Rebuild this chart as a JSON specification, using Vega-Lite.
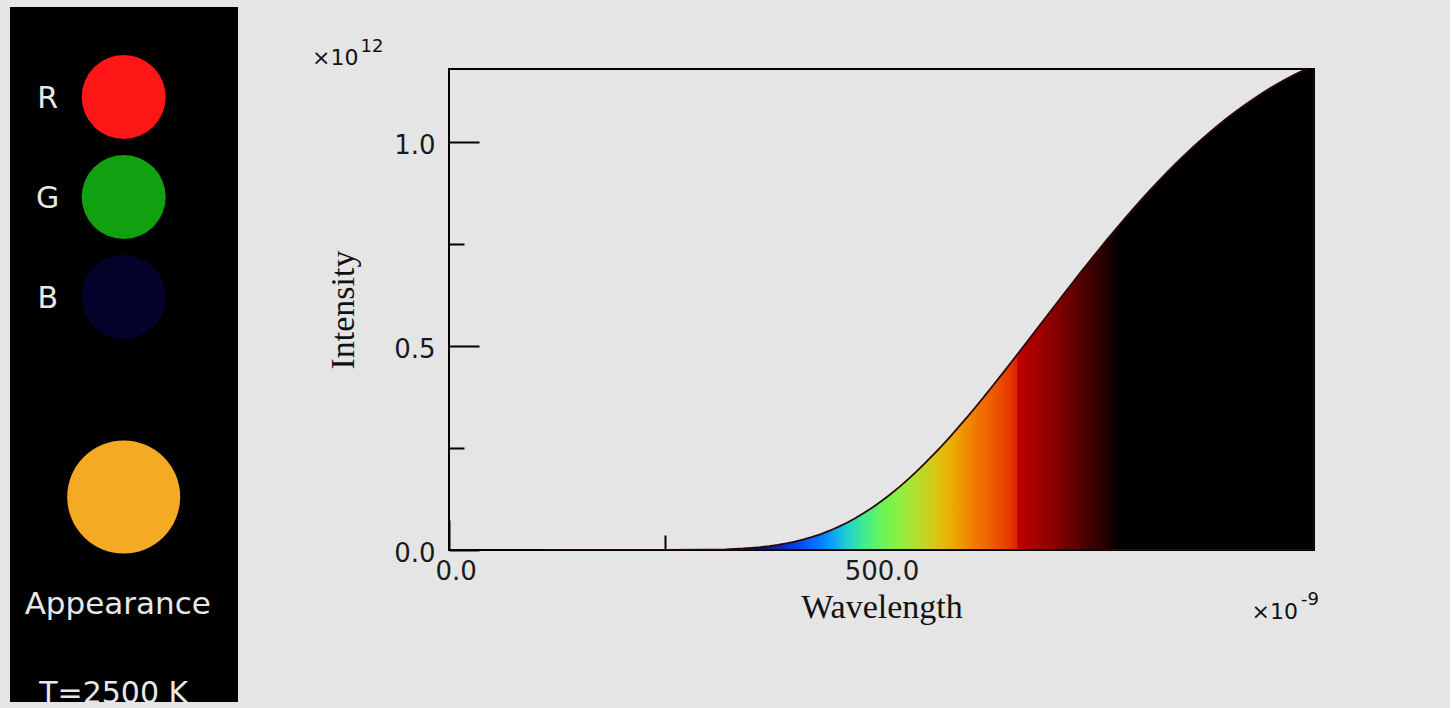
{
  "$schema": "https://vega.github.io/schema/vega-lite/v6.json",
  "background": "#e5e5e5",
  "padding": {"left": 10, "top": 7, "right": 130, "bottom": 2},
  "autosize": {"type": "pad"},
  "config": {"view": {"stroke": null}},
  "datasets": {
    "channels": [
      {"channel": "R", "level": 1.0},
      {"channel": "G", "level": 0.63},
      {"channel": "B", "level": 0.02}
    ],
    "appearance": [
      {"channel": "Appearance", "caption": "Appearance", "temperature": "T=2500 K"}
    ],
    "yunit": [{"base": "×10", "exponent": "12"}],
    "xunit": [{"base": "×10", "exponent": "-9"}],
    "spectrum": [
      {"wavelength": 110, "intensity": 0},
      {"wavelength": 200, "intensity": 4.0e5},
      {"wavelength": 250, "intensity": 3.85e7},
      {"wavelength": 300, "intensity": 7.2e8},
      {"wavelength": 320, "intensity": 1.72e9},
      {"wavelength": 340, "intensity": 3.67e9},
      {"wavelength": 350, "intensity": 5.15e9},
      {"wavelength": 360, "intensity": 7.06e9},
      {"wavelength": 370, "intensity": 9.48e9},
      {"wavelength": 380, "intensity": 1.249e10},
      {"wavelength": 390, "intensity": 1.618e10},
      {"wavelength": 400, "intensity": 2.061e10},
      {"wavelength": 410, "intensity": 2.588e10},
      {"wavelength": 420, "intensity": 3.204e10},
      {"wavelength": 430, "intensity": 3.918e10},
      {"wavelength": 440, "intensity": 4.734e10},
      {"wavelength": 450, "intensity": 5.659e10},
      {"wavelength": 460, "intensity": 6.694e10},
      {"wavelength": 470, "intensity": 7.845e10},
      {"wavelength": 480, "intensity": 9.114e10},
      {"wavelength": 490, "intensity": 1.0499e11},
      {"wavelength": 500, "intensity": 1.2005e11},
      {"wavelength": 510, "intensity": 1.3625e11},
      {"wavelength": 520, "intensity": 1.5362e11},
      {"wavelength": 530, "intensity": 1.7208e11},
      {"wavelength": 540, "intensity": 1.9164e11},
      {"wavelength": 550, "intensity": 2.1224e11},
      {"wavelength": 560, "intensity": 2.3381e11},
      {"wavelength": 570, "intensity": 2.563e11},
      {"wavelength": 580, "intensity": 2.7961e11},
      {"wavelength": 590, "intensity": 3.0373e11},
      {"wavelength": 600, "intensity": 3.2855e11},
      {"wavelength": 610, "intensity": 3.5397e11},
      {"wavelength": 620, "intensity": 3.7997e11},
      {"wavelength": 630, "intensity": 4.0649e11},
      {"wavelength": 640, "intensity": 4.3338e11},
      {"wavelength": 650, "intensity": 4.6052e11},
      {"wavelength": 660, "intensity": 4.8799e11},
      {"wavelength": 670, "intensity": 5.1553e11},
      {"wavelength": 680, "intensity": 5.4323e11},
      {"wavelength": 690, "intensity": 5.709e11},
      {"wavelength": 700, "intensity": 5.9848e11},
      {"wavelength": 710, "intensity": 6.26e11},
      {"wavelength": 720, "intensity": 6.5334e11},
      {"wavelength": 730, "intensity": 6.8035e11},
      {"wavelength": 740, "intensity": 7.0711e11},
      {"wavelength": 750, "intensity": 7.3346e11},
      {"wavelength": 760, "intensity": 7.5951e11},
      {"wavelength": 770, "intensity": 7.849e11},
      {"wavelength": 780, "intensity": 8.099e11},
      {"wavelength": 790, "intensity": 8.3436e11},
      {"wavelength": 800, "intensity": 8.5832e11},
      {"wavelength": 810, "intensity": 8.8155e11},
      {"wavelength": 820, "intensity": 9.0432e11},
      {"wavelength": 830, "intensity": 9.2624e11},
      {"wavelength": 840, "intensity": 9.4758e11},
      {"wavelength": 850, "intensity": 9.6824e11},
      {"wavelength": 860, "intensity": 9.8801e11},
      {"wavelength": 870, "intensity": 1.00722e12},
      {"wavelength": 880, "intensity": 1.0257e12},
      {"wavelength": 890, "intensity": 1.04325e12},
      {"wavelength": 900, "intensity": 1.06027e12},
      {"wavelength": 910, "intensity": 1.07647e12},
      {"wavelength": 920, "intensity": 1.0919e12},
      {"wavelength": 930, "intensity": 1.1066e12},
      {"wavelength": 940, "intensity": 1.12045e12},
      {"wavelength": 950, "intensity": 1.13366e12},
      {"wavelength": 960, "intensity": 1.14609e12},
      {"wavelength": 970, "intensity": 1.15778e12},
      {"wavelength": 980, "intensity": 1.16863e12},
      {"wavelength": 990, "intensity": 1.17898e12},
      {"wavelength": 1000, "intensity": 1.18855e12}
    ]
  },
  "spacing": 74,
  "hconcat": [
    {
      "width": 228,
      "height": 695,
      "view": {"fill": "#000000", "stroke": null},
      "layer": [
        {
          "data": {"name": "channels"},
          "mark": {"type": "circle", "size": 7056, "opacity": 1},
          "encoding": {
            "x": {"datum": "swatch", "type": "nominal", "scale": {"type": "point", "domain": ["label", "swatch"], "padding": 1.02, "align": 0.248}, "axis": null},
            "y": {"field": "channel", "type": "nominal", "scale": {"type": "point", "domain": ["R", "G", "B", "gap", "Appearance", "caption", "temp"], "padding": 0.475, "align": 0.947}, "axis": null},
            "color": {"field": "channel", "type": "nominal", "scale": {"domain": ["R", "G", "B", "Appearance"], "range": ["#ff1717", "#10a010", "#03032c", "#f5aa23"]}, "legend": null}
          }
        },
        {
          "data": {"name": "channels"},
          "mark": {"type": "text", "font": "DejaVu Sans", "fontSize": 30, "color": "#e8e8e8", "align": "center", "baseline": "middle", "dy": 2},
          "encoding": {
            "x": {"datum": "label", "type": "nominal"},
            "y": {"field": "channel", "type": "nominal"},
            "text": {"field": "channel"}
          }
        },
        {
          "data": {"name": "appearance"},
          "mark": {"type": "circle", "size": 12769, "opacity": 1},
          "encoding": {
            "x": {"datum": "swatch", "type": "nominal"},
            "y": {"field": "channel", "type": "nominal"},
            "color": {"field": "channel", "type": "nominal", "legend": null}
          }
        },
        {
          "data": {"name": "appearance"},
          "mark": {"type": "text", "font": "DejaVu Sans", "fontSize": 31, "color": "#e8e8e8", "align": "center", "baseline": "middle", "dx": -6, "dy": 8},
          "encoding": {
            "x": {"datum": "swatch", "type": "nominal"},
            "y": {"datum": "caption", "type": "nominal"},
            "text": {"field": "caption"}
          }
        },
        {
          "data": {"name": "appearance"},
          "mark": {"type": "text", "font": "DejaVu Sans", "fontSize": 30, "color": "#e8e8e8", "align": "center", "baseline": "middle", "dx": -10, "dy": -3},
          "encoding": {
            "x": {"datum": "swatch", "type": "nominal"},
            "y": {"datum": "temp", "type": "nominal"},
            "text": {"field": "temperature"}
          }
        }
      ]
    },
    {
      "spacing": -7,
      "vconcat": [
        {
          "width": 1,
          "height": 60,
          "view": {"stroke": null},
          "data": {"name": "yunit"},
          "layer": [
            {
              "mark": {"type": "text", "align": "right", "baseline": "alphabetic", "font": "DejaVu Sans", "fontSize": 22, "color": "#111111", "dx": -91, "dy": 28},
              "encoding": {"text": {"field": "base"}}
            },
            {
              "mark": {"type": "text", "align": "left", "baseline": "alphabetic", "font": "DejaVu Sans", "fontSize": 18, "color": "#111111", "dx": -89, "dy": 15},
              "encoding": {"text": {"field": "exponent"}}
            }
          ]
        },
        {
          "width": 865,
          "height": 481,
          "view": {"stroke": "#000000", "strokeWidth": 2},
          "layer": [
            {
              "data": {"name": "spectrum"},
              "mark": {
                "type": "area",
                "clip": true,
                "stroke": "#2a0808",
                "strokeWidth": 1.8,
                "fill": {
                  "gradient": "linear",
                  "x1": 0, "y1": 0, "x2": 1, "y2": 0,
                  "stops": [
                    {"offset": 0, "color": "#000000"},
                    {"offset": 0.2135, "color": "#000008"},
                    {"offset": 0.2697, "color": "#080850"},
                    {"offset": 0.3034, "color": "#1020a8"},
                    {"offset": 0.3258, "color": "#0040e8"},
                    {"offset": 0.3483, "color": "#0068ff"},
                    {"offset": 0.3708, "color": "#0898ff"},
                    {"offset": 0.3933, "color": "#20d0d0"},
                    {"offset": 0.4157, "color": "#40ec90"},
                    {"offset": 0.4382, "color": "#68f458"},
                    {"offset": 0.4607, "color": "#8cf040"},
                    {"offset": 0.4831, "color": "#b0e030"},
                    {"offset": 0.5056, "color": "#d6c818"},
                    {"offset": 0.5281, "color": "#eab000"},
                    {"offset": 0.5506, "color": "#f08800"},
                    {"offset": 0.5787, "color": "#f06000"},
                    {"offset": 0.6067, "color": "#e43400"},
                    {"offset": 0.6135, "color": "#dc2400"},
                    {"offset": 0.6157, "color": "#c00000"},
                    {"offset": 0.6573, "color": "#900000"},
                    {"offset": 0.7, "color": "#500000"},
                    {"offset": 0.7303, "color": "#200000"},
                    {"offset": 0.7472, "color": "#000000"},
                    {"offset": 1, "color": "#000000"}
                  ]
                }
              },
              "encoding": {
                "x": {
                  "field": "wavelength",
                  "type": "quantitative",
                  "scale": {"domain": [0, 1000], "nice": false, "zero": false},
                  "axis": {
                    "title": "Wavelength",
                    "values": [0, 250, 500, 750],
                    "labelExpr": "datum.value % 500 === 0 ? format(datum.value, '.1f') : ''",
                    "tickSize": {"condition": {"test": "datum.value % 500 === 0", "value": -30}, "value": -15},
                    "tickColor": "#000000",
                    "tickWidth": 2,
                    "domain": false,
                    "grid": false,
                    "labelFlush": true,
                    "labelFlushOffset": 14,
                    "labelOverlap": false,
                    "labelFont": "DejaVu Sans",
                    "labelFontSize": 26,
                    "labelColor": "#1a1a1a",
                    "labelPadding": 38,
                    "titleFont": "Liberation Serif",
                    "titleFontSize": 34,
                    "titleFontWeight": "normal",
                    "titleColor": "#111111",
                    "titlePadding": -9
                  }
                },
                "y": {
                  "field": "intensity",
                  "type": "quantitative",
                  "scale": {"domain": [0, 1180000000000], "nice": false},
                  "axis": {
                    "title": "Intensity",
                    "values": [0, 250000000000, 500000000000, 750000000000, 1000000000000],
                    "labelExpr": "datum.value % 500000000000 === 0 ? format(datum.value / 1e12, '.1f') : ''",
                    "tickSize": {"condition": {"test": "datum.value % 500000000000 === 0", "value": -30}, "value": -15},
                    "tickColor": "#000000",
                    "tickWidth": 2,
                    "domain": false,
                    "grid": false,
                    "labelOverlap": false,
                    "labelFont": "DejaVu Sans",
                    "labelFontSize": 26,
                    "labelColor": "#1a1a1a",
                    "labelPadding": 44,
                    "labelOffset": 3,
                    "titleFont": "Liberation Serif",
                    "titleFontSize": 34,
                    "titleFontWeight": "normal",
                    "titleColor": "#111111",
                    "titlePadding": 33
                  }
                }
              }
            },
            {
              "data": {"name": "xunit"},
              "mark": {"type": "text", "align": "right", "baseline": "alphabetic", "font": "DejaVu Sans", "fontSize": 22, "color": "#111111", "dx": -16, "dy": 69},
              "encoding": {
                "x": {"datum": 1000, "type": "quantitative"},
                "y": {"datum": 0, "type": "quantitative"},
                "text": {"field": "base"}
              }
            },
            {
              "data": {"name": "xunit"},
              "mark": {"type": "text", "align": "left", "baseline": "alphabetic", "font": "DejaVu Sans", "fontSize": 18, "color": "#111111", "dx": -13, "dy": 55},
              "encoding": {
                "x": {"datum": 1000, "type": "quantitative"},
                "y": {"datum": 0, "type": "quantitative"},
                "text": {"field": "exponent"}
              }
            }
          ]
        }
      ]
    }
  ]
}
